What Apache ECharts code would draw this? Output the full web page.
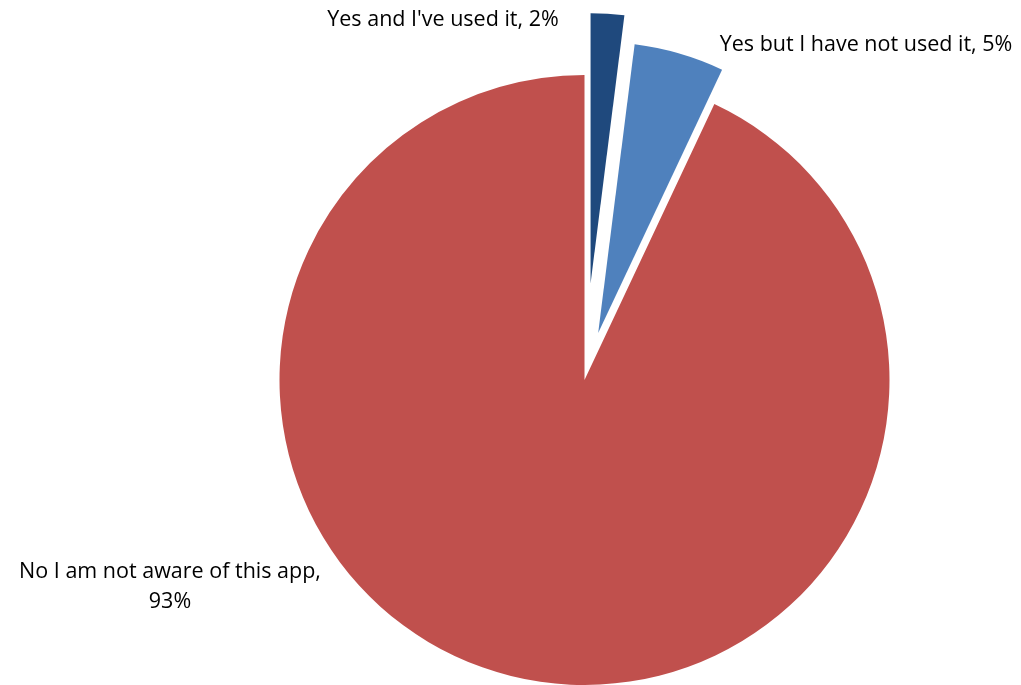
<!DOCTYPE html>
<html><head><meta charset="utf-8">
<script src="https://cdn.jsdelivr.net/npm/echarts@6/dist/echarts.min.js"></script>
<style>html,body{margin:0;padding:0;background:#fff}#c{width:1021px;height:685px}</style>
</head><body><div id="c"></div>
<script>
const categories = ["Yes and I've used it", "Yes but I have not used it", "No I am not aware of this app"];
const values = [2, 5, 93];
const labelTexts = ["Yes and I've used it, 2%", "Yes but I have not used it, 5%", "No I am not aware of this app,\n93%"];
const colors = ['#1F497D', '#4F81BD', '#C0504D'];
const explode = [97, 49, 0];
const sliceRadius = [270, 291, 305];
const labelPos = [[443, 20, 'center'], [866, 45, 'center'], [170, 587, 'center']];

const chart = echarts.init(document.getElementById('c'));
const base = {
  type: 'pie',
  center: [584.5, 380],
  radius: [0, 305],
  startAngle: 90,
  clockwise: true,
  animation: false,
  silent: true,
  labelLine: { show: false }
};
const series = categories.map((cat, k) => Object.assign({}, base, {
  radius: [0, sliceRadius[k]],
  selectedMode: 'multiple',
  selectedOffset: explode[k],
  label: { show: false },
  data: categories.map((c, i) => ({
    name: c,
    value: values[i],
    selected: i === k && explode[k] > 0,
    itemStyle: { color: i === k ? colors[i] : 'rgba(0,0,0,0)', borderWidth: 0 },
    emphasis: { disabled: true }
  }))
}));
series.push(Object.assign({}, base, {
  z: 10,
  selectedMode: false,
  itemStyle: { color: 'rgba(0,0,0,0)' },
  label: {
    show: true,
    position: 'outside',
    formatter: (p) => labelTexts[p.dataIndex],
    color: '#000',
    fontFamily: 'Open Sans',
    fontSize: 21.5,
    lineHeight: 30,
    align: 'center',
    overflow: 'none',
    width: 400
  },
  labelLayout: function (p) {
    const q = labelPos[p.dataIndex];
    return { x: q[0], y: q[1], align: q[2], verticalAlign: 'middle' };
  },
  data: categories.map((c, i) => ({ name: c, value: values[i] }))
}));
chart.setOption({ backgroundColor: '#fff', series: series });
</script></body></html>
